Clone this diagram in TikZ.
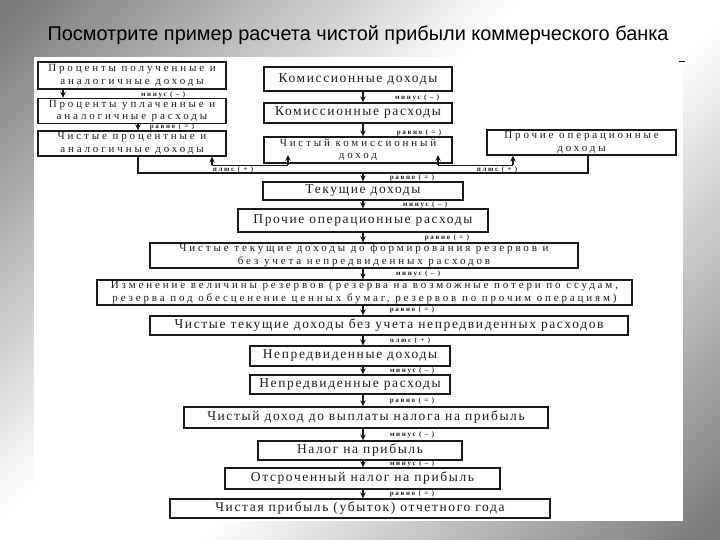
\documentclass[tikz,border=0pt]{standalone}
\usepackage{fontspec}
\setmainfont{Liberation Serif}
\newfontfamily\titlefont{Liberation Sans}
\newfontfamily\boxfont[LetterSpace=12]{Liberation Serif}
\newfontfamily\boxfontw[LetterSpace=26]{Liberation Serif}
\newfontfamily\lblfont[LetterSpace=24]{Liberation Serif}
\usetikzlibrary{arrows.meta}
\definecolor{bgdark}{HTML}{7C7C7C}
\definecolor{linecol}{HTML}{1A1A1A}
\definecolor{txtcol}{HTML}{1E1E1E}
\pgfdeclareverticalshading{slidebg}{100bp}{color(0bp)=(bgdark); color(16bp)=(bgdark); color(44bp)=(white); color(56bp)=(white); color(84bp)=(bgdark); color(100bp)=(bgdark)}
\tikzset{
  box/.style={draw=linecol, line width=1.3pt, inner sep=0pt, align=center,
    font=\boxfont\fontsize{13.5}{14}\selectfont, text=txtcol},
  box2/.style={box, font=\boxfontw\fontsize{11}{12.3}\selectfont},
  lbl/.style={font=\lblfont\bfseries\fontsize{7}{7.5}\selectfont, inner sep=0pt, text=txtcol},
  arr/.style={-{Stealth[length=6pt,width=5.5pt]}, line width=1.4pt, draw=linecol},
  ln/.style={line width=1.2pt, draw=linecol},
  thinln/.style={line width=0.6pt, draw=linecol},
}
\newcommand\mkbox[7][box]{\node[#1, minimum width={(#5-#3)*1pt}, minimum height={(#6-#4)*1pt}] (#2) at ({(#3+#5)/2},{(#4+#6)/2}) {#7};}
\begin{document}
\begin{tikzpicture}[x=1pt,y=-1pt]
\useasboundingbox (0,0) rectangle (720,540);
\shade[shading=slidebg, shading angle=45] (0,0) rectangle (720,540);
\fill[white] (34,57) rectangle (683,521);
\draw[line width=0.8pt, draw=linecol] (679,61) -- (685,61);
\node[font=\titlefont\fontsize{19.9}{22}\selectfont, text=black, anchor=base] (title) at (358,41) {Посмотрите пример расчета чистой прибыли коммерческого банка};

% boxes
\mkbox[box2]{B1}{38}{62}{226}{89}{Проценты полученные и\\аналогичные доходы}
\mkbox[box2]{B2}{38}{98.5}{226}{123.5}{Проценты уплаченные и\\аналогичные расходы}
\mkbox[box2]{B3}{38}{131}{226}{156}{Чистые процентные и\\аналогичные доходы}
\mkbox{C1}{264}{67}{452}{91}{Комиссионные доходы}
\mkbox{C2}{264}{103}{452}{123}{Комиссионные расходы}
\mkbox[box2]{C3}{264}{137}{452}{163}{Чистый комиссионный\\доход}
\mkbox[box2]{R1}{487}{130}{676}{155}{Прочие операционные\\доходы}
\mkbox{T}{263}{182}{463}{200}{Текущие доходы}
\mkbox{P}{238}{209}{488}{232}{Прочие операционные расходы}
\mkbox[box2]{N1}{150}{243}{578}{268}{Чистые текущие доходы до формирования резервов и\\без учета непредвиденных расходов}
\mkbox[box2]{Z}{97}{280}{632}{305}{Изменение величины резервов (резерва на возможные потери по ссудам,\\резерва под обесценение ценных бумаг, резервов по прочим операциям)}
\mkbox{N2}{150}{316}{628}{335}{Чистые текущие доходы без учета непредвиденных расходов}
\mkbox{U1}{250}{346}{450}{366}{Непредвиденные доходы}
\mkbox{U2}{250}{375}{450}{394}{Непредвиденные расходы}
\mkbox{D}{184}{407}{548}{428}{Чистый доход до выплаты налога на прибыль}
\mkbox{TX}{258}{441}{462}{460}{Налог на прибыль}
\mkbox{DT}{225}{468}{500}{489}{Отсроченный налог на прибыль}
\mkbox{F}{170}{499}{550}{518}{Чистая прибыль (убыток) отчетного года}

% guide coordinates
\coordinate (ax) at (363,0);
\coordinate (ax1) at (63,0);
\coordinate (ax2) at (138,0);
\coordinate (jl) at (138,173);
\coordinate (jr) at (588,173);
\coordinate (u1) at (212,165);
\coordinate (u2) at (288,165);
\coordinate (u3) at (438,165);
\coordinate (u4) at (513,165);
\coordinate (t2) at (288,155);
\coordinate (t3) at (438,155);

% left column
\draw[arr] (B1.south -| ax1) -- (B2.north -| ax1);
\draw[arr] (B2.south -| ax2) -- (B3.north -| ax2);
% centre column
\draw[arr] (C1.south -| ax) -- (C2.north -| ax);
\draw[arr] (C2.south -| ax) -- (C3.north -| ax);
% bracket
\draw[ln] (B3.south -| jl) -- (jl) -- (jr) -- (R1.south -| jr);
\draw[arr] (jl -| ax) -- (T.north -| ax);
% plus arrows
\draw[thinln] (u1) -- (u2);
\draw[thinln] (u3) -- (u4);
\draw[arr] (u1) -- (B3.south -| u1);
\draw[arr] (u2) -- (t2);
\draw[arr] (u3) -- (t3);
\draw[arr] (u4) -- (R1.south -| u4);
% main chain
\draw[arr] (T.south -| ax) -- (P.north -| ax);
\draw[arr] (P.south -| ax) -- (N1.north -| ax);
\draw[arr] (N1.south -| ax) -- (Z.north -| ax);
\draw[arr] (Z.south -| ax) -- (N2.north -| ax);
\draw[arr] (N2.south -| ax) -- (U1.north -| ax);
\draw[arr] (U1.south -| ax) -- (U2.north -| ax);
\draw[arr] (U2.south -| ax) -- (D.north -| ax);
\draw[arr] (D.south -| ax) -- (TX.north -| ax);
\draw[arr] (TX.south -| ax) -- (DT.north -| ax);
\draw[arr] (DT.south -| ax) -- (F.north -| ax);

% labels
\node[lbl] (l1) at (163,94.5) {минус ( – )};
\node[lbl] (l2) at (172,127.3) {равно ( = )};
\node[lbl] (l3) at (417,98) {минус ( – )};
\node[lbl] (l4) at (419,133) {равно ( = )};
\node[lbl] (l5) at (233,170) {плюс ( + )};
\node[lbl] (l6) at (497,170) {плюс ( + )};
\node[lbl] (l7) at (412,178) {равно ( = )};
\node[lbl] (l8) at (425,205) {минус ( – )};
\node[lbl] (l9) at (447,238) {равно ( = )};
\node[lbl] (l10) at (418,274) {минус ( – )};
\node[lbl] (l11) at (412,309.5) {равно ( = )};
\node[lbl] (l12) at (410,340.5) {плюс ( + )};
\node[lbl] (l13) at (412,370.5) {минус ( – )};
\node[lbl] (l14) at (412,401) {равно ( = )};
\node[lbl] (l15) at (412,435) {минус ( – )};
\node[lbl] (l16) at (412,464) {минус ( – )};
\node[lbl] (l17) at (412,494) {равно ( = )};
\end{tikzpicture}
\end{document}
